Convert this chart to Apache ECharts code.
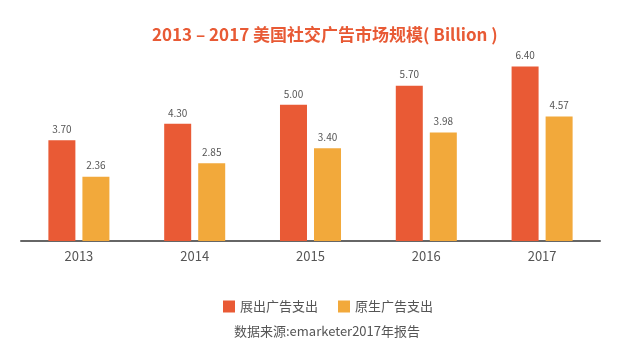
<!DOCTYPE html>
<html><head><meta charset="utf-8">
<script src="https://cdn.jsdelivr.net/npm/echarts@6/dist/echarts.min.js"></script>
<style>html,body{margin:0;padding:0;background:#fff}#c{width:640px;height:360px}</style>
</head><body><div id="c"></div>
<script>
var years = ['2013','2014','2015','2016','2017'];
var displayAds = [3.70, 4.30, 5.00, 5.70, 6.40];
var nativeAds = [2.36, 2.85, 3.40, 3.98, 4.57];
var seriesNames = ['展出广告支出','原生广告支出'];
var titleText = '2013 – 2017 美国社交广告市场规模( Billion )';
var sourceText = '数据来源:emarketer2017年报告';

var font = '"Noto Sans CJK SC","Noto Sans",sans-serif';
var chart = echarts.init(document.getElementById('c'));
chart.setOption({
  animation:false,
  backgroundColor:'#fff',
  title:[{text:titleText,left:147,top:21,textStyle:{color:'#e85a35',fontSize:17,fontWeight:'bold',fontFamily:font}},
         {text:sourceText,left:234,top:325,padding:0,textStyle:{color:'#555',fontSize:13,fontWeight:'normal',fontFamily:font}}],
  legend:{data:seriesNames,top:295,left:218,itemWidth:12,itemHeight:12,itemGap:20,icon:'rect',
    textStyle:{color:'#555',fontSize:13,fontFamily:font}},
  grid:{left:21,right:40,top:23,bottom:119,containLabel:false},
  xAxis:{type:'category',data:years,axisTick:{show:false},
    axisLine:{lineStyle:{color:'#666',width:2}},
    axisLabel:{color:'#555',fontSize:13,margin:9,fontFamily:font}},
  yAxis:{type:'value',min:0,max:8,show:false,splitLine:{show:false}},
  series:[
    {name:seriesNames[0],type:'bar',data:displayAds,barWidth:27,barGap:'26%',
     itemStyle:{color:'#e95a35'},
     label:{show:true,position:'top',distance:6,color:'#555',fontSize:10,fontFamily:font,formatter:function(p){return p.value.toFixed(2);}}},
    {name:seriesNames[1],type:'bar',data:nativeAds,barWidth:27,
     itemStyle:{color:'#f2a93b'},
     label:{show:true,position:'top',distance:6,color:'#555',fontSize:10,fontFamily:font,formatter:function(p){return p.value.toFixed(2);}}}
  ]
});
</script></body></html>
